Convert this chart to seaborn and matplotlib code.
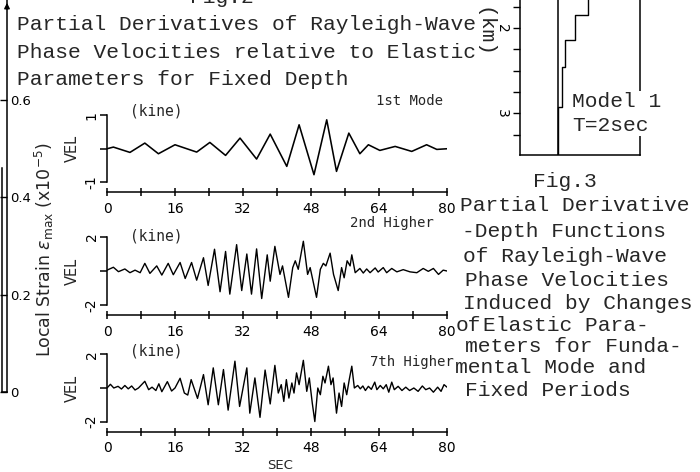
import numpy as np
import pandas as pd
import matplotlib
matplotlib.use("Agg")
import matplotlib.pyplot as plt
import seaborn as sns

# ---------------- data ----------------
# 1st mode trace (extrema)
sec_1st = [0, 1.5, 5.4, 8.9, 12.1, 16.0, 21.1, 24.2, 27.9, 31.3, 35.2, 38.4, 42.3,
           45.2, 48.7, 51.7, 54.0, 56.9, 59.5, 61.5, 64.2, 67.8, 71.7, 75.2, 77.6, 80]
vel_1st = [0, 0.05, -0.11, 0.17, -0.15, 0.12, -0.10, 0.19, -0.20, 0.32, -0.31, 0.44, -0.53,
           0.72, -0.78, 0.87, -0.68, 0.47, -0.15, 0.12, -0.05, 0.07, -0.08, 0.12, -0.02, 0.0]

# 2nd higher mode trace
sec_2nd = [0, 1.5, 2.7, 4.2, 5.4, 6.6, 7.8, 8.9, 10.1, 11.7, 12.9, 14.4, 15.6, 17.2, 18.4,
           19.9, 21.1, 22.7, 23.8, 25.3, 26.6, 27.9, 28.9, 30.5, 31.7, 32.9, 34.0, 35.2,
           36.4, 37.7, 38.4, 39.5, 40.7, 41.3, 42.7, 43.7, 44.3, 45.0, 46.2, 47.2, 47.8,
           49.3, 50.2, 50.9, 51.5, 52.5, 53.3, 54.4, 55.2, 55.8, 56.5, 57.2, 57.6, 58.4,
           59.5, 60.3, 61.1, 61.9, 63.1, 63.8, 65.0, 65.8, 67.0, 68.2, 69.7, 71.3, 72.9,
           74.4, 75.6, 76.8, 78.0, 79.1, 80]
vel_2nd = [0.05, 0.22, -0.04, 0.12, -0.10, 0.05, -0.10, 0.45, -0.14, 0.30, -0.24, 0.45, -0.22,
           0.50, -0.44, 0.50, -0.54, 0.78, -0.85, 1.28, -1.22, 1.15, -1.36, 1.55, -1.15, 1.00,
           -1.36, 1.30, -1.62, 0.95, -0.60, 1.45, -0.20, 0.30, -1.55, 0.20, 0.60, 0.10, 1.75,
           -0.20, 0.20, -1.55, 0.10, 0.45, 0.30, 1.05, -0.20, -1.15, 0.20, -0.40, 0.60, 0.30,
           0.95, -0.10, 0.15, -0.12, 0.12, -0.10, 0.18, -0.06, 0.20, -0.10, 0.15, -0.05, 0.08,
           -0.05, -0.10, 0.15, -0.02, 0.15, -0.20, 0.05, 0.0]

# 7th higher mode trace
sec_7th = [0, 0.8, 1.6, 2.6, 3.4, 4.2, 5.0, 5.8, 6.6, 7.4, 8.9, 9.8, 10.6, 11.5, 12.2, 12.9,
           14.2, 15.2, 16.0, 17.2, 18.2, 19.0, 19.8, 21.3, 22.7, 23.8, 25.0, 26.2, 27.4, 28.5,
           30.1, 31.2, 32.9, 33.6, 34.8, 36.0, 37.2, 38.4, 39.5, 40.3, 41.0, 41.6, 42.2, 42.8,
           43.5, 44.0, 44.6, 45.2, 46.2, 47.0, 47.6, 48.3, 48.9, 49.6, 50.2, 50.8, 51.3, 52.1,
           52.7, 53.2, 54.0, 54.6, 55.2, 55.8, 56.4, 57.0, 57.6, 58.2, 59.0, 59.6, 60.2, 60.8,
           61.5, 62.2, 63.0, 63.5, 64.3, 65.0, 65.7, 66.3, 67.0, 67.6, 68.5, 69.4, 70.3, 71.2,
           72.2, 73.2, 74.2, 75.0, 75.9, 76.8, 77.8, 78.6, 79.3, 80]
vel_7th = [0.0, 0.22, 0.0, 0.10, -0.06, 0.15, -0.05, 0.12, -0.12, 0.0, 0.40, -0.10, 0.05, -0.15,
           0.25, -0.22, 0.38, -0.18, 0.0, 0.58, -0.30, -0.42, 0.50, -0.62, 0.80, -1.00, 1.20,
           -1.00, 1.10, -1.32, 1.60, -1.10, 1.20, -1.50, 0.60, -1.75, 1.07, -0.95, 1.35, -0.30,
           0.20, -0.80, 0.50, -0.60, 0.30, -0.30, 0.90, 0.20, 1.65, -0.20, 0.60, -0.90, -2.00,
           0.0, -0.40, 0.70, 0.30, 1.30, 0.20, 0.60, -1.50, -0.30, -1.10, 0.30, -0.40, 0.50,
           1.30, 0.0, 0.15, -0.05, 0.12, -0.15, 0.10, -0.08, 0.35, -0.10, 0.15, -0.05, 0.20,
           -0.25, 0.35, -0.10, 0.10, -0.15, 0.05, -0.15, 0.0, -0.20, 0.12, -0.10, 0.0, -0.25,
           0.05, -0.20, 0.20, 0.05]

sec_ticks = [0, 16, 32, 48, 64, 80]
sec_minor = [8, 24, 40, 56, 72]

# Local strain axis (left)
strain_ticks = [0, 0.2, 0.4, 0.6]
strain_labels = ["0", "0.2", "0.4", "0.6"]

# Fig.3 partial-derivative depth profile (Model 1, T=2sec)
layer_top = [1.60, 1.85, 2.14, 2.46, 2.93]
layer_bottom = [1.85, 2.14, 2.46, 2.93, 3.49]
deriv_value = [0.30, 0.17, 0.07, 0.04, 0.0]
depth_ticks = [2, 3]
depth_labels = ["2", "3"]
depth_minor = [1.75, 2.25, 2.5, 2.75, 3.25]

# ---------------- style ----------------
sns.set_theme(style="white")
plt.rcParams["font.family"] = ["DejaVu Sans"]
plt.rcParams["mathtext.fontset"] = "dejavusans"
plt.rcParams["axes.edgecolor"] = "black"
plt.rcParams["axes.linewidth"] = 1.1

W, H = 700, 472
fig = plt.figure(figsize=(7, 4.72), dpi=100)
fig.patch.set_facecolor("white")


def rect(left, top, right, bottom):
    return [left / W, 1 - bottom / H, (right - left) / W, (bottom - top) / H]


def ftext(x, y, s, **kw):
    return fig.text(x / W, 1 - y / H, s, **kw)


MONO = "Liberation Mono"
CAP = 15.3

# ---------------- seismogram panels ----------------
panels = [
    (rect(107, 105.5, 447, 192), sec_1st, vel_1st, 1, 1.3, 0.936, "1st Mode", (409, 101), 1.15),
    (rect(107, 226.8, 447, 315.2), sec_2nd, vel_2nd, 2, 2.6, 0.896, "2nd Higher", (392, 223), 1.0),
    (rect(107, 344.4, 447, 431.6), sec_7th, vel_7th, 2, 2.6, 0.924, "7th Higher", (412, 362), 1.0),
]

axes = []
for r, t, v, amp, lim, kine_y, mode, mode_xy, lw in panels:
    ax = fig.add_axes(r)
    ax.set_facecolor("none")
    df = pd.DataFrame({"SEC": t, "VEL": v})
    sns.lineplot(data=df, x="SEC", y="VEL", ax=ax, color="black", lw=lw,
                 estimator=None, sort=False)
    ax.set_xlim(0, 80)
    ax.set_ylim(-lim, lim)
    ax.spines["top"].set_visible(False)
    ax.spines["right"].set_visible(False)
    ax.spines["left"].set_bounds(-amp, amp)
    ax.set_xticks(sec_ticks)
    ax.set_xticklabels([str(s) for s in sec_ticks])
    ax.set_xticks(sec_minor, minor=True)
    ax.tick_params(axis="x", which="both", direction="inout", length=6, width=1.1,
                   bottom=True, labelsize=10, pad=4, colors="black")
    ax.set_yticks([-amp, 0, amp])
    ax.set_yticklabels([f"-{amp}", "", f"{amp}"], rotation=90, va="center")
    ax.tick_params(axis="y", direction="out", length=5, width=1.1, left=True,
                   labelsize=10, pad=1, colors="black")
    ax.set_xlabel("")
    ax.set_ylabel("VEL", fontsize=10.5, labelpad=0)
    ax.yaxis.set_label_coords(-0.079, 0.5)
    ax.text(0.144, kine_y, "(kine)", transform=ax.transAxes, ha="center", va="center",
            fontsize=10.5, family="DejaVu Sans Mono")
    ftext(mode_xy[0], mode_xy[1], mode, ha="center", va="center", fontsize=10,
          family="DejaVu Sans Mono")
    axes.append(ax)

axes[-1].set_xlabel("SEC", fontsize=9.5)
axes[-1].xaxis.set_label_coords((280 - 107) / 340, -0.31)

# ---------------- Local strain axis ----------------
axs = fig.add_axes(rect(2, 0, 7, 392))
axs.set_facecolor("none")
axs.set_xlim(0, 1)
axs.set_ylim(0, 0.805)
axs.set_xticks([])
axs.set_yticks(strain_ticks)
axs.set_yticklabels(strain_labels)
axs.yaxis.tick_right()
axs.tick_params(axis="y", direction="in", length=5, width=1.0, pad=2, labelsize=9.5,
                colors="black")
axs.spines["top"].set_visible(False)
axs.spines["left"].set_bounds(0, 0.46)
axs.annotate("", xy=(1, 1.0), xytext=(1, 0.97), xycoords="axes fraction",
             arrowprops=dict(arrowstyle="-|>", color="black", lw=1.0,
                             mutation_scale=8))
ftext(44, 250, r"Local Strain $\varepsilon_{\rm max}$ (x10$^{-5}$)", rotation=90,
      ha="center", va="center", fontsize=12.5)

# ---------------- Fig.3 depth profile ----------------
axd = fig.add_axes(rect(520, 0, 640, 155))
axd.set_facecolor("none")
step_x = np.repeat(deriv_value, 2)
step_y = np.ravel(np.column_stack([layer_top, layer_bottom]))
prof = pd.DataFrame({"deriv": step_x, "depth": step_y})
sns.lineplot(data=prof, x="deriv", y="depth", ax=axd, color="black", lw=1.0,
             estimator=None, sort=False)
axd.axvline(0, color="black", lw=1.1)
axd.set_xlim(-0.38, 0.82)
axd.set_ylim(3.49, 1.67)
axd.set_xticks([])
axd.set_yticks(depth_ticks)
axd.set_yticklabels(depth_labels, rotation=-90, va="center")
axd.set_yticks(depth_minor, minor=True)
axd.tick_params(axis="y", which="both", direction="out", length=5, width=1.0, left=True,
                labelsize=10, pad=3, colors="black")
axd.spines["top"].set_visible(False)
axd.set_xlabel("")
axd.set_ylabel("")
ftext(484, 33, "(km)", rotation=-90, ha="center", va="center", fontsize=CAP, family=MONO)
ftext(572, 92, "Model 1\nT=2sec", ha="left", va="top", fontsize=CAP, family=MONO,
      linespacing=1.32,
      bbox=dict(facecolor="white", edgecolor="none", pad=1.0))

# ---------------- captions ----------------
ftext(190, 3, "Fig.2", ha="left", va="baseline", fontsize=CAP, family=MONO)
fig2_lines = ["Partial Derivatives of Rayleigh-Wave",
              "Phase Velocities relative to Elastic",
              "Parameters for Fixed Depth"]
for s, yb in zip(fig2_lines, [30, 58, 85]):
    ftext(17, yb, s, ha="left", va="baseline", fontsize=CAP, family=MONO)

ftext(533, 187, "Fig.3", ha="left", va="baseline", fontsize=CAP, family=MONO)
fig3_lines = [("Partial Derivative", 460, 211),
              ("-Depth Functions", 462, 237),
              ("of Rayleigh-Wave", 463, 262),
              ("Phase Velocities", 465, 286),
              ("Induced by Changes", 463, 309),
              ("of", 456, 331),
              ("Elastic Para-", 483, 331),
              ("meters for Funda-", 465, 352),
              ("mental Mode and", 455, 373),
              ("Fixed Periods", 465, 396)]
for s, x, yb in fig3_lines:
    ftext(x, yb, s, ha="left", va="baseline", fontsize=CAP, family=MONO)

fig.savefig("out.png", dpi=100, facecolor="white")
